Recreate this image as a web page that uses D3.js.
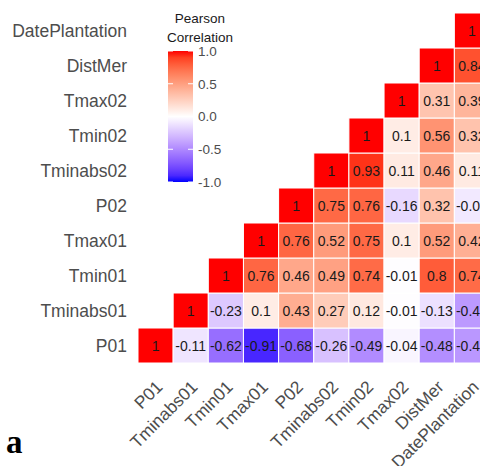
<!DOCTYPE html>
<html>
<head>
<meta charset="utf-8">
<script src="https://cdn.jsdelivr.net/npm/d3@7/dist/d3.min.js"></script>
<style>
  html, body { margin: 0; padding: 0; background: #fff; }
  svg { display: block; font-family: "Liberation Sans", Arial, sans-serif; }
</style>
</head>
<body>
<div id="chart"></div>
<script>
// variable names (bottom row / left column first)
const variables = ['P01', 'Tminabs01', 'Tmin01', 'Tmax01', 'P02', 'Tminabs02', 'Tmin02', 'Tmax02', 'DistMer', 'DatePlantation'];

// correlations of each row variable with itself and the variables to its right
const corrP01 = [1, -0.11, -0.62, -0.91, -0.68, -0.26, -0.49, -0.04, -0.48, -0.44];
const corrTminabs01 = [1, -0.23, 0.1, 0.43, 0.27, 0.12, -0.01, -0.13, -0.43];
const corrTmin01 = [1, 0.76, 0.46, 0.49, 0.74, -0.01, 0.8, 0.74];
const corrTmax01 = [1, 0.76, 0.52, 0.75, 0.1, 0.52, 0.42];
const corrP02 = [1, 0.75, 0.76, -0.16, 0.32, -0.09];
const corrTminabs02 = [1, 0.93, 0.11, 0.46, 0.11];
const corrTmin02 = [1, 0.1, 0.56, 0.32];
const corrTmax02 = [1, 0.31, 0.39];
const corrDistMer = [1, 0.84];
const corrDatePlantation = [1];

const legendTicks = [1, 0.5, 0, -0.5, -1];

const rows = [corrP01, corrTminabs01, corrTmin01, corrTmax01, corrP02,
              corrTminabs02, corrTmin02, corrTmax02, corrDistMer, corrDatePlantation];

const width = 480, height = 466;

const cells = [];
rows.forEach((vals, i) => {
    vals.forEach((v, k) => {
        cells.push({ row: variables[i], col: variables[i + k], value: v });
    });
});

const svg = d3.select('#chart').append('svg')
    .attr('width', width)
    .attr('height', height);

const x = d3.scaleBand().domain(variables).range([138, 138 + 35.15 * 10]).padding(0);
const y = d3.scaleBand().domain(variables.slice().reverse()).range([13, 363]).padding(0);

const color = d3.scaleLinear()
    .domain([-1, 0, 1])
    .range(['blue', 'white', 'red'])
    .interpolate(d3.interpolateLab);

// cells
svg.append('g').selectAll('rect')
    .data(cells)
    .enter().append('rect')
    .attr('x', d => x(d.col))
    .attr('y', d => y(d.row))
    .attr('width', x.bandwidth())
    .attr('height', y.bandwidth())
    .style('fill', d => color(d.value))
    .style('stroke', '#fff')
    .style('stroke-width', 1);

// cell labels
svg.append('g').selectAll('text')
    .data(cells)
    .enter().append('text')
    .attr('x', d => x(d.col) + x.bandwidth() / 2)
    .attr('y', d => y(d.row) + y.bandwidth() / 2)
    .attr('dy', '0.36em')
    .attr('text-anchor', 'middle')
    .style('font-size', '14px')
    .style('fill', '#1a1a1a')
    .text(d => String(d.value));

// y axis labels
svg.append('g').selectAll('text')
    .data(variables)
    .enter().append('text')
    .attr('x', 127)
    .attr('y', d => y(d) + y.bandwidth() / 2)
    .attr('dy', '0.36em')
    .attr('text-anchor', 'end')
    .style('font-size', '17.5px')
    .style('fill', '#4d4d4d')
    .text(d => d);

// x axis labels, rotated
svg.append('g').selectAll('text')
    .data(variables)
    .enter().append('text')
    .attr('transform', d => `translate(${x(d) + x.bandwidth() / 2 + 8},388) rotate(-45)`)
    .attr('text-anchor', 'end')
    .style('font-size', '17.5px')
    .style('fill', '#4d4d4d')
    .text(d => d);

// legend
const legY = d3.scaleLinear().domain([-1, 1]).range([182, 51]);
const defs = svg.append('defs');
const grad = defs.append('linearGradient')
    .attr('id', 'corr-grad')
    .attr('x1', 0).attr('y1', 1).attr('x2', 0).attr('y2', 0);
d3.range(-1, 1.001, 0.1).forEach(v => {
    grad.append('stop')
        .attr('offset', ((v + 1) / 2 * 100) + '%')
        .attr('stop-color', color(v));
});

const legend = svg.append('g');
legend.append('text')
    .attr('x', 200).attr('y', 23)
    .attr('text-anchor', 'middle')
    .style('font-size', '13.5px')
    .style('fill', '#1a1a1a')
    .text('Pearson');
legend.append('text')
    .attr('x', 200).attr('y', 42)
    .attr('text-anchor', 'middle')
    .style('font-size', '13.5px')
    .style('fill', '#1a1a1a')
    .text('Correlation');

legend.append('rect')
    .attr('x', 168).attr('y', legY(1))
    .attr('width', 25).attr('height', legY(-1) - legY(1))
    .style('fill', 'url(#corr-grad)');

legend.selectAll('line.tl')
    .data(legendTicks)
    .enter().append('line')
    .attr('x1', 168).attr('x2', 173)
    .attr('y1', d => legY(d)).attr('y2', d => legY(d))
    .style('stroke', '#fff').style('stroke-width', 1);
legend.selectAll('line.tr')
    .data(legendTicks)
    .enter().append('line')
    .attr('x1', 188).attr('x2', 193)
    .attr('y1', d => legY(d)).attr('y2', d => legY(d))
    .style('stroke', '#fff').style('stroke-width', 1);

legend.selectAll('text.lab')
    .data(legendTicks)
    .enter().append('text')
    .attr('x', 198)
    .attr('y', d => legY(d))
    .attr('dy', '0.36em')
    .style('font-size', '13.5px')
    .style('fill', '#4d4d4d')
    .text(d => d3.format('.1f')(d).replace('\u2212', '-'));

// panel tag
svg.append('text')
    .attr('x', 6).attr('y', 453)
    .style('font-family', '"Liberation Serif", "Times New Roman", serif')
    .style('font-weight', 'bold')
    .style('font-size', '33px')
    .style('fill', '#000')
    .text('a');
</script>
</body>
</html>
